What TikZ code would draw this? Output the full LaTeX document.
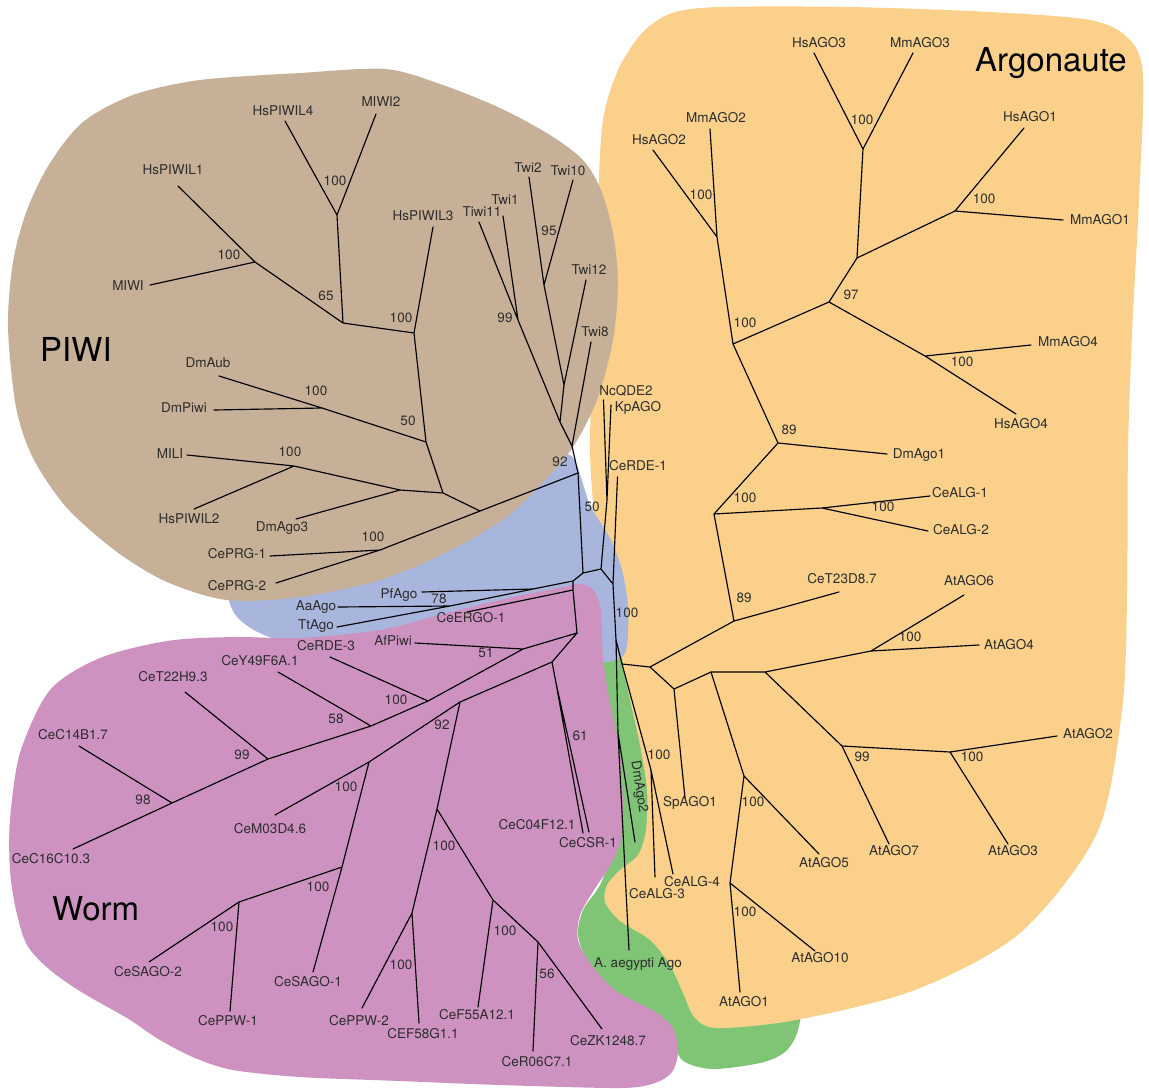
\documentclass[tikz,border=0pt]{standalone}
\usepackage{fontspec}
\setmainfont{TeX Gyre Heros}
\definecolor{agoc}{RGB}{250,208,138}
\definecolor{piwic}{RGB}{198,176,151}
\definecolor{bluec}{RGB}{168,181,220}
\definecolor{wormc}{RGB}{206,146,193}
\definecolor{grnc}{RGB}{128,197,117}
\definecolor{labc}{RGB}{45,45,45}
\begin{document}
\begin{tikzpicture}[x=1pt,y=-1pt,
  br/.style={line width=1.15pt, line cap=round, line join=round},
  lab/.style={font=\fontsize{13.5}{15}\selectfont, text=labc, inner sep=0pt, anchor=mid},
  big/.style={font=\fontsize{33}{38}\selectfont, text=black, inner sep=0pt, anchor=base west}]
\useasboundingbox (0,0) rectangle (1149,1088);
\fill[white] (0,0) rectangle (1149,1088);
% ---------- blobs ----------
\fill[grnc] plot[smooth cycle, tension=0.5] coordinates {(603,655) (625,652) (645,720) (660,820) (690,900) (760,950) (800,990) (798,1030) (785,1052) (760,1063) (712,1069) (682,1060) (672,1035) (655,1013) (613,990) (588,962) (578,935) (583,910) (600,885) (612,850) (614,790) (608,720)};
\fill[agoc] plot[smooth cycle, tension=0.5] coordinates {(642,33) (672,13) (720,7) (850,7) (990,12) (1090,20) (1128,38) (1143,75) (1139,200) (1132,333) (1128,450) (1127,600) (1122,710) (1097,833) (1020,933) (915,990) (796,1020) (718,1028) (695,1018) (683,993) (670,965) (650,940) (620,921) (605,902) (607,885) (620,870) (638,855) (646,830) (647,790) (640,745) (630,700) (623,665) (615,600) (598,540) (590,450) (595,300) (598,200) (603,120) (618,70)};
\fill[bluec] plot[smooth cycle, tension=0.5] coordinates {(570,455) (590,505) (610,538) (622,570) (628,607) (627,645) (620,658) (590,662) (450,650) (300,643) (262,634) (238,618) (229,598) (240,575) (320,560) (450,520) (530,475)};
\fill[wormc] plot[smooth cycle, tension=0.5] coordinates {(20,753) (50,690) (100,658) (167,641) (233,637) (300,638) (380,630) (447,613) (513,597) (563,587) (582,584) (595,592) (601,612) (603,657) (610,703) (620,753) (623,807) (621,840) (610,866) (594,890) (580,915) (578,940) (590,963) (615,990) (657,1013) (674,1030) (678,1053) (672,1072) (655,1083) (620,1088) (500,1085) (400,1081) (300,1077) (233,1070) (195,1058) (160,1040) (127,1018) (83,993) (50,970) (27,945) (16,910) (10,870) (10,820)};
\fill[piwic] plot[smooth cycle, tension=0.5] coordinates {(8,327) (13,262) (27,210) (50,163) (83,122) (133,95) (200,80) (300,73) (385,69) (440,84) (500,108) (550,135) (583,160) (601,190) (613,233) (618,283) (613,340) (597,400) (573,447) (545,480) (505,518) (447,552) (380,580) (300,597) (227,600) (167,582) (117,552) (67,508) (33,458) (16,407)};
% ---------- group titles ----------
\node[big] (tPIWI) at (40,361) {PIWI};
\node[big] (tArgo) at (975,71) {Argonaute};
\node[big] (tWorm) at (52,920) {Worm};
% ---------- coordinates ----------
% Twi clade
\coordinate (r92) at (578,473);
\coordinate (tw) at (572,446);
\coordinate (twA) at (560,422);
\coordinate (twB) at (564,385);
\coordinate (t95) at (544,285);
\coordinate (t99) at (518,320);
\coordinate (lTwi2) at (529,177);
\coordinate (lTwi10) at (573,180);
\coordinate (lTwi12) at (586,280);
\coordinate (lTiwi11) at (479,222);
\coordinate (lTwi1) at (503,216);
\coordinate (lTwi8) at (591,342);
% PIWI
\coordinate (p1) at (480,511);
\coordinate (pPRG) at (380,550);
\coordinate (lCePRG1) at (270,556);
\coordinate (lCePRG2) at (276,583);
\coordinate (p2) at (443,493);
\coordinate (p3) at (400,490);
\coordinate (pMILI) at (294,466);
\coordinate (lMILI) at (187,455);
\coordinate (lHsPIWIL2) at (194,509);
\coordinate (lDmAgo3) at (296,519);
\coordinate (p50) at (426,442);
\coordinate (pDm) at (322,408);
\coordinate (lDmAub) at (219,376);
\coordinate (lDmPiwi) at (214,410);
\coordinate (p100b) at (414,333);
\coordinate (lHsPIWIL3) at (433,227);
\coordinate (p65) at (343,323);
\coordinate (p100c) at (337,215);
\coordinate (lHsPIWIL4) at (285,121);
\coordinate (lMIWI2) at (376,114);
\coordinate (p100d) at (255,262);
\coordinate (lHsPIWIL1) at (178,186);
\coordinate (lMIWI) at (150,285);
% centre
\coordinate (c1) at (583,573);
\coordinate (a0) at (601,569);
\coordinate (c2) at (573,581);
\coordinate (cPf) at (533,589);
\coordinate (lPf) at (422,592);
\coordinate (c78) at (450,606);
\coordinate (lAa) at (338,607);
\coordinate (lTt) at (337,627);
\coordinate (c3) at (573,590);
\coordinate (lERGO) at (467,612);
% worm
\coordinate (w0) at (577,633);
\coordinate (w51) at (523,649);
\coordinate (lAf) at (415,643);
\coordinate (w100e) at (428,701);
\coordinate (lRDE3) at (330,657);
\coordinate (w58) at (371,726);
\coordinate (lY49) at (278,672);
\coordinate (w99) at (268,759);
\coordinate (lT22) at (185,692);
\coordinate (w98) at (172,803);
\coordinate (lC14) at (79,746);
\coordinate (lC16) at (73,849);
\coordinate (w1) at (552,662);
\coordinate (w61) at (556,683);
\coordinate (lC04) at (583,833);
\coordinate (lCSR) at (589,832);
\coordinate (w92) at (460,702);
\coordinate (w100f) at (369,762);
\coordinate (lM03) at (275,815);
\coordinate (w100h) at (342,867);
\coordinate (lSAGO1) at (313,972);
\coordinate (w100i) at (239,902);
\coordinate (lSAGO2) at (149,962);
\coordinate (lPPW1) at (230,1011);
\coordinate (w100g) at (437,809);
\coordinate (w100j) at (412,913);
\coordinate (lPPW2) at (362,1008);
\coordinate (lF58) at (419,1023);
\coordinate (w100k) at (493,900);
\coordinate (lF55) at (478,1007);
\coordinate (w56) at (538,942);
\coordinate (lR06) at (533,1051);
\coordinate (lZK) at (602,1029);
% argonaute
\coordinate (aNc) at (607,500);
\coordinate (lNc) at (603.5,400);
\coordinate (lKp) at (611,405);
\coordinate (aR1) at (613,584);
\coordinate (lRDE1) at (617.5,477);
\coordinate (aD) at (616,640);
\coordinate (aDm2) at (618,733);
\coordinate (lDmAgo2) at (635,842);
\coordinate (lAaeg) at (629,950);
\coordinate (aE) at (622,664);
\coordinate (aALG) at (651,770);
\coordinate (lALG3) at (655,877);
\coordinate (lALG4) at (673,874);
\coordinate (aG) at (650,667);
\coordinate (g89b) at (734,621);
\coordinate (lT23) at (839,592);
\coordinate (g100m) at (714,514);
\coordinate (gALG12) at (822,508);
\coordinate (lALG1) at (930,496);
\coordinate (lALG2) at (928,531);
\coordinate (g89a) at (778,443);
\coordinate (lDmAgo1) at (887,454);
\coordinate (g100n) at (733,344);
\coordinate (g100o) at (717,237);
\coordinate (lHsAGO2) at (653,150);
\coordinate (lMmAGO2) at (710,129);
\coordinate (g97) at (829,302);
\coordinate (gX) at (857,258);
\coordinate (g100q) at (863,149);
\coordinate (lHsAGO3) at (814,53);
\coordinate (lMmAGO3) at (913,53);
\coordinate (g100r) at (955,211);
\coordinate (lHsAGO1) at (1024,128);
\coordinate (lMmAGO1) at (1063,220);
\coordinate (g100p) at (925,356);
\coordinate (lMmAGO4) at (1031,345);
\coordinate (lHsAGO4) at (1016,414);
\coordinate (gAt) at (674,689);
\coordinate (lSp) at (685,798);
\coordinate (gAt2) at (711,672);
\coordinate (gAt3) at (765,672);
\coordinate (g100s) at (744,776);
\coordinate (lAt5) at (819,854);
\coordinate (g100t) at (730,883);
\coordinate (lAt1) at (740,992);
\coordinate (lAt10) at (815,951);
\coordinate (g100u) at (871,651);
\coordinate (lAt6) at (964,595);
\coordinate (lAt4) at (979,645);
\coordinate (g99a) at (842,746);
\coordinate (lAt7) at (889,844);
\coordinate (g100v) at (950,752);
\coordinate (lAt2) at (1057,736);
\coordinate (lAt3) at (1008,844);
% ---------- branches ----------
\draw[br] (r92)--(tw) (tw)--(twA) (tw)--(lTwi8) (twA)--(twB) (twA)--(t99)
  (twB)--(t95) (twB)--(lTwi12) (t95)--(lTwi2) (t95)--(lTwi10)
  (t99)--(lTiwi11) (t99)--(lTwi1);
\draw[br] (r92)--(p1) (p1)--(pPRG) (pPRG)--(lCePRG1) (pPRG)--(lCePRG2)
  (p1)--(p2) (p2)--(p3) (p3)--(pMILI) (pMILI)--(lMILI) (pMILI)--(lHsPIWIL2)
  (p3)--(lDmAgo3) (p2)--(p50) (p50)--(pDm) (pDm)--(lDmAub) (pDm)--(lDmPiwi)
  (p50)--(p100b) (p100b)--(lHsPIWIL3) (p100b)--(p65) (p65)--(p100c)
  (p100c)--(lHsPIWIL4) (p100c)--(lMIWI2) (p65)--(p100d)
  (p100d)--(lHsPIWIL1) (p100d)--(lMIWI);
\draw[br] (r92)--(c1) (c1)--(a0) (c1)--(c2) (c2)--(cPf) (cPf)--(lPf)
  (cPf)--(c78) (c78)--(lAa) (c78)--(lTt) (c2)--(c3) (c3)--(lERGO) (c3)--(w0);
\draw[br] (w0)--(w51) (w51)--(lAf) (w51)--(w100e) (w100e)--(lRDE3)
  (w100e)--(w58) (w58)--(lY49) (w58)--(w99) (w99)--(lT22) (w99)--(w98)
  (w98)--(lC14) (w98)--(lC16)
  (w0)--(w1) (w1)--(w61) (w61)--(lC04) (w61)--(lCSR) (w1)--(w92)
  (w92)--(w100f) (w100f)--(lM03) (w100f)--(w100h) (w100h)--(lSAGO1)
  (w100h)--(w100i) (w100i)--(lSAGO2) (w100i)--(lPPW1)
  (w92)--(w100g) (w100g)--(w100j) (w100j)--(lPPW2) (w100j)--(lF58)
  (w100g)--(w100k) (w100k)--(lF55) (w100k)--(w56) (w56)--(lR06) (w56)--(lZK);
\draw[br] (a0)--(aNc) (aNc)--(lNc) (aNc)--(lKp) (a0)--(aR1) (aR1)--(lRDE1)
  (aR1)--(aD) (aD)--(aDm2) (aDm2)--(lDmAgo2) (aDm2)--(lAaeg)
  (aD)--(aE) (aE)--(aALG) (aALG)--(lALG3) (aALG)--(lALG4) (aE)--(aG)
  (aG)--(g89b) (g89b)--(lT23) (g89b)--(g100m) (g100m)--(gALG12)
  (gALG12)--(lALG1) (gALG12)--(lALG2) (g100m)--(g89a) (g89a)--(lDmAgo1)
  (g89a)--(g100n) (g100n)--(g100o) (g100o)--(lHsAGO2) (g100o)--(lMmAGO2)
  (g100n)--(g97) (g97)--(gX) (gX)--(g100q) (g100q)--(lHsAGO3) (g100q)--(lMmAGO3)
  (gX)--(g100r) (g100r)--(lHsAGO1) (g100r)--(lMmAGO1)
  (g97)--(g100p) (g100p)--(lMmAGO4) (g100p)--(lHsAGO4)
  (aG)--(gAt) (gAt)--(lSp) (gAt)--(gAt2) (gAt2)--(gAt3) (gAt2)--(g100s)
  (g100s)--(lAt5) (g100s)--(g100t) (g100t)--(lAt1) (g100t)--(lAt10)
  (gAt3)--(g100u) (g100u)--(lAt6) (g100u)--(lAt4) (gAt3)--(g99a)
  (g99a)--(lAt7) (g99a)--(g100v) (g100v)--(lAt2) (g100v)--(lAt3);
% ---------- leaf labels ----------
\node[lab] (nHsPIWIL4) at (283,113) {HsPIWIL4};
\node[lab] (nMIWI2) at (381,104) {MIWI2};
\node[lab] (nHsPIWIL1) at (173,172) {HsPIWIL1};
\node[lab] (nMIWI) at (128,288) {MIWI};
\node[lab] (nHsPIWIL3) at (423,218) {HsPIWIL3};
\node[lab] (nTiwi11) at (482,214) {Tiwi11};
\node[lab] (nTwi1) at (505,202) {Twi1};
\node[lab] (nTwi2) at (528,170) {Twi2};
\node[lab] (nTwi10) at (568,173) {Twi10};
\node[lab] (nTwi12) at (589,272) {Twi12};
\node[lab] (nTwi8) at (595,334) {Twi8};
\node[lab] (nDmAub) at (208,365) {DmAub};
\node[lab] (nDmPiwi) at (184,410) {DmPiwi};
\node[lab] (nMILI) at (170,456) {MILI};
\node[lab] (nHsPIWIL2) at (189,521) {HsPIWIL2};
\node[lab] (nDmAgo3) at (282,529) {DmAgo3};
\node[lab] (nCePRG1) at (237,556) {CePRG-1};
\node[lab] (nCePRG2) at (237,588) {CePRG-2};
\node[lab] (nAaAgo) at (316,608) {AaAgo};
\node[lab] (nTtAgo) at (316,627) {TtAgo};
\node[lab] (nPfAgo) at (399,596) {PfAgo};
\node[lab] (nCeERGO) at (471,620) {CeERGO-1};
\node[lab] (nAfPiwi) at (393,643) {AfPiwi};
\node[lab] (nCeRDE3) at (326,648) {CeRDE-3};
\node[lab] (nCeY49) at (260,663) {CeY49F6A.1};
\node[lab] (nCeT22) at (173,679) {CeT22H9.3};
\node[lab] (nCeC14) at (73,737) {CeC14B1.7};
\node[lab] (nCeC16) at (51,861) {CeC16C10.3};
\node[lab] (nCeM03) at (270,831) {CeM03D4.6};
\node[lab] (nCeSAGO2) at (148,974) {CeSAGO-2};
\node[lab] (nCePPW1) at (228,1023) {CePPW-1};
\node[lab] (nCeSAGO1) at (308,984) {CeSAGO-1};
\node[lab] (nCePPW2) at (359,1023) {CePPW-2};
\node[lab] (nCEF58) at (423,1036) {CEF58G1.1};
\node[lab] (nCeF55) at (477,1017) {CeF55A12.1};
\node[lab] (nCeR06) at (537,1064) {CeR06C7.1};
\node[lab] (nCeZK) at (608,1043) {CeZK1248.7};
\node[lab] (nCeC04) at (537,827) {CeC04F12.1};
\node[lab] (nCeCSR) at (588,845) {CeCSR-1};
\node[lab] (nAaeg) at (638,965) {A. aegypti Ago};
\node[lab, rotate=-81] (nDmAgo2) at (638,787) {DmAgo2};
\node[lab] (nCeALG3) at (657,896) {CeALG-3};
\node[lab] (nCeALG4) at (692,884) {CeALG-4};
\node[lab] (nSpAGO1) at (690,804) {SpAGO1};
\node[lab] (nAtAGO1) at (744,1004) {AtAGO1};
\node[lab] (nAtAGO10) at (820,960) {AtAGO10};
\node[lab] (nAtAGO5) at (824,865) {AtAGO5};
\node[lab] (nAtAGO7) at (894,853) {AtAGO7};
\node[lab] (nAtAGO3) at (1013,853) {AtAGO3};
\node[lab] (nAtAGO2) at (1088,736) {AtAGO2};
\node[lab] (nAtAGO6) at (969,583) {AtAGO6};
\node[lab] (nAtAGO4) at (1009,647) {AtAGO4};
\node[lab] (nCeT23) at (842,581) {CeT23D8.7};
\node[lab] (nCeALG1) at (960,495) {CeALG-1};
\node[lab] (nCeALG2) at (961,532) {CeALG-2};
\node[lab] (nDmAgo1) at (919,456) {DmAgo1};
\node[lab] (nHsAGO4) at (1021,426) {HsAGO4};
\node[lab] (nMmAGO4) at (1068,344) {MmAGO4};
\node[lab] (nMmAGO1) at (1100,222) {MmAGO1};
\node[lab] (nHsAGO1) at (1030,119) {HsAGO1};
\node[lab] (nHsAGO3) at (819,45) {HsAGO3};
\node[lab] (nMmAGO3) at (920,45) {MmAGO3};
\node[lab] (nMmAGO2) at (716,120) {MmAGO2};
\node[lab] (nHsAGO2) at (659,142) {HsAGO2};
\node[lab] (nNcQDE2) at (626,393) {NcQDE2};
\node[lab] (nKpAGO) at (638,409) {KpAGO};
\node[lab] (nCeRDE1) at (638,468) {CeRDE-1};
% ---------- bootstrap values ----------
\node[lab] (b01) at (335,183) {100};
\node[lab] (b02) at (229,257) {100};
\node[lab] (b03) at (326,298) {65};
\node[lab] (b04) at (401,320) {100};
\node[lab] (b05) at (505,320) {99};
\node[lab] (b06) at (549,233) {95};
\node[lab] (b07) at (408,423) {50};
\node[lab] (b08) at (316,393) {100};
\node[lab] (b09) at (290,454) {100};
\node[lab] (b10) at (373,539) {100};
\node[lab] (b11) at (560,464) {92};
\node[lab] (b12) at (592,509) {50};
\node[lab] (b13) at (439,601) {78};
\node[lab] (b14) at (486,655) {51};
\node[lab] (b15) at (396,702) {100};
\node[lab] (b16) at (336,721) {58};
\node[lab] (b17) at (242,757) {99};
\node[lab] (b18) at (143,802) {98};
\node[lab] (b19) at (442,727) {92};
\node[lab] (b20) at (346,789) {100};
\node[lab] (b21) at (580,738) {61};
\node[lab] (b22) at (318,889) {100};
\node[lab] (b23) at (222,929) {100};
\node[lab] (b24) at (444,848) {100};
\node[lab] (b25) at (401,967) {100};
\node[lab] (b26) at (505,933) {100};
\node[lab] (b27) at (547,976) {56};
\node[lab] (b28) at (627,615) {100};
\node[lab] (b29) at (659,757) {100};
\node[lab] (b30) at (753,804) {100};
\node[lab] (b31) at (745,914) {100};
\node[lab] (b32) at (862,759) {99};
\node[lab] (b33) at (972,759) {100};
\node[lab] (b34) at (910,639) {100};
\node[lab] (b35) at (744,600) {89};
\node[lab] (b36) at (745,500) {100};
\node[lab] (b37) at (883,509) {100};
\node[lab] (b38) at (789,432) {89};
\node[lab] (b39) at (745,325) {100};
\node[lab] (b40) at (851,297) {97};
\node[lab] (b41) at (962,364) {100};
\node[lab] (b42) at (701,197) {100};
\node[lab] (b43) at (862,122) {100};
\node[lab] (b44) at (984,201) {100};
\end{tikzpicture}
\end{document}
